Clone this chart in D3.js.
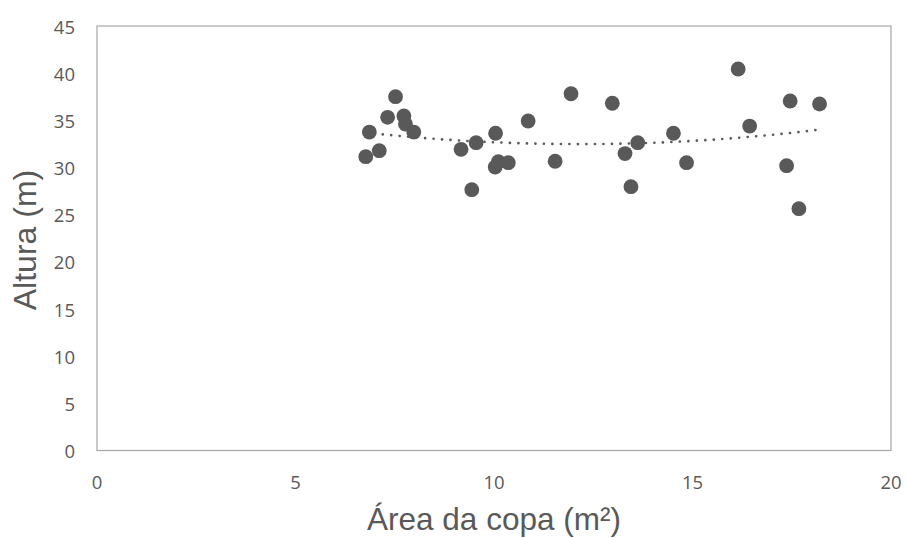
<!DOCTYPE html>
<html><head><meta charset="utf-8">
<script src="https://cdn.jsdelivr.net/npm/d3@7"></script>
<style>body{margin:0;background:#fff}svg{display:block}</style>
</head><body>
<script>
const areaCopa = [6.77,6.86,7.11,7.32,7.52,7.73,7.77,7.98,9.17,9.44,9.55,10.04,10.11,10.03,10.36,10.86,11.54,11.94,12.98,13.30,13.45,13.62,14.52,14.85,16.15,16.44,17.46,18.20,17.37,17.68];
const altura   = [31.15,33.76,31.78,35.32,37.51,35.46,34.61,33.76,31.93,27.65,32.63,33.63,30.62,30.05,30.51,34.93,30.66,37.82,36.81,31.48,27.97,32.63,33.63,30.51,40.44,34.39,37.05,36.73,30.19,25.63];
const xTicks = [0,5,10,15,20];
const yTicks = [0,5,10,15,20,25,30,35,40,45];
const xTitle = "Área da copa (m²)";
const yTitle = "Altura (m)";

const W=906,H=538, L=97, R=891, T=26, B=450.5;
const svg=d3.select("body").append("svg").attr("width",W).attr("height",H);
const x=d3.scaleLinear().domain([0,20]).range([L,R]);
const y=d3.scaleLinear().domain([0,45]).range([B,T]);
const grey="#595959";

svg.append("rect").attr("x",L).attr("y",T).attr("width",R-L).attr("height",B-T)
  .attr("fill","none").attr("stroke","#a6a6a6").attr("stroke-width",1.2);

svg.append("g").selectAll("text").data(yTicks).join("text")
  .attr("x",75).attr("y",d=>y(d)+1).attr("dy","0.36em").attr("text-anchor","end")
  .attr("font-family","Open Sans, sans-serif").attr("font-size",18.5).attr("fill",grey).text(d=>d);
svg.append("g").selectAll("text").data(xTicks).join("text")
  .attr("x",d=>x(d)).attr("y",488.5).attr("text-anchor","middle")
  .attr("font-family","Open Sans, sans-serif").attr("font-size",18.5).attr("fill",grey).text(d=>d);

svg.append("text").attr("x",(L+R)/2).attr("y",530).attr("text-anchor","middle")
  .attr("font-family","Liberation Sans, Arial, sans-serif").attr("font-size",31.5).attr("fill",grey).text(xTitle);
svg.append("text").attr("transform",`translate(36,240) rotate(-90)`).attr("text-anchor","middle")
  .attr("font-family","Liberation Sans, Arial, sans-serif").attr("font-size",32).attr("fill",grey).text(yTitle);

// quadratic least-squares trendline
function polyfit2(xs,ys){
  let S=[0,0,0,0,0],Ty=[0,0,0];
  xs.forEach((xv,i)=>{for(let k=0;k<5;k++)S[k]+=xv**k;for(let k=0;k<3;k++)Ty[k]+=ys[i]*xv**k;});
  const A=[[S[0],S[1],S[2],Ty[0]],[S[1],S[2],S[3],Ty[1]],[S[2],S[3],S[4],Ty[2]]];
  for(let i=0;i<3;i++){for(let j=i+1;j<3;j++){const f=A[j][i]/A[i][i];for(let k=i;k<4;k++)A[j][k]-=f*A[i][k];}}
  const c=[0,0,0];
  for(let i=2;i>=0;i--){let s=A[i][3];for(let k=i+1;k<3;k++)s-=A[i][k]*c[k];c[i]=s/A[i][i];}
  return c;
}
const c=polyfit2(areaCopa,altura);
const xmin=d3.min(areaCopa),xmax=d3.max(areaCopa);
const tp=d3.range(0,101).map(i=>{const xv=xmin+(xmax-xmin)*i/100;return [xv,c[0]+c[1]*xv+c[2]*xv*xv];});
svg.append("path").attr("d",d3.line().x(d=>x(d[0])).y(d=>y(d[1]))(tp))
  .attr("fill","none").attr("stroke",grey).attr("stroke-width",2.6)
  .attr("stroke-linecap","round").attr("stroke-dasharray","0.1 8.4");

svg.append("g").selectAll("circle").data(areaCopa).join("circle")
  .attr("cx",d=>x(d)).attr("cy",(d,i)=>y(altura[i])).attr("r",7.4).attr("fill",grey);
</script>
</body></html>
